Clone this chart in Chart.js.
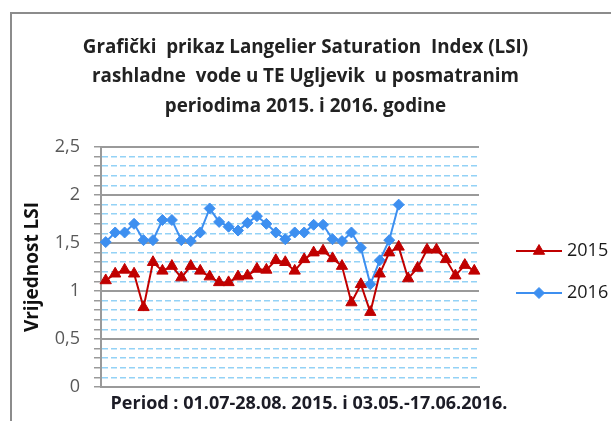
<!DOCTYPE html>
<html lang="bs">
<head>
<meta charset="UTF-8">
<title>LSI rashladne vode - TE Ugljevik</title>
<style>
    * { margin: 0; padding: 0; box-sizing: border-box; }
    html, body { width: 611px; height: 421px; overflow: hidden; background: #fff; }
    .frame { position: absolute; left: 10px; top: 12px; width: 700px; height: 500px; border: 2px solid #8c8c8c; }
    .wrap { position: absolute; left: 0; top: 0; width: 611px; height: 421px; }
</style>
</head>
<body>
<div class="frame"></div>
<div class="wrap"><canvas id="lsi" width="611" height="421"></canvas></div>

<script src="https://cdn.jsdelivr.net/npm/chart.js@4.4.1/dist/chart.umd.min.js"></script>
<script>
    // measurement days (categories, not shown on the axis)
    const days = ['1','2','3','4','5','6','7','8','9','10',
                  '11','12','13','14','15','16','17','18','19','20',
                  '21','22','23','24','25','26','27','28','29','30',
                  '31','32','33','34','35','36','37','38','39','40'];

    const lsi2015 = [1.11, 1.18, 1.22, 1.18, 0.83, 1.30, 1.21, 1.26, 1.14, 1.26,
                     1.21, 1.15, 1.09, 1.09, 1.15, 1.16, 1.23, 1.22, 1.32, 1.30,
                     1.21, 1.33, 1.40, 1.42, 1.34, 1.26, 0.88, 1.07, 0.78, 1.18,
                     1.40, 1.46, 1.13, 1.24, 1.43, 1.43, 1.33, 1.16, 1.27, 1.21];

    const lsi2016 = [1.51, 1.61, 1.61, 1.70, 1.53, 1.53, 1.74, 1.74, 1.53, 1.52,
                     1.61, 1.86, 1.72, 1.67, 1.63, 1.71, 1.78, 1.70, 1.61, 1.54,
                     1.61, 1.61, 1.69, 1.69, 1.54, 1.52, 1.61, 1.45, 1.07, 1.32,
                     1.53, 1.90];

    const seriesNames = ['2015', '2016'];

    const titleLines = ['Grafički  prikaz Langelier Saturation  Index (LSI)',
                        'rashladne  vode u TE Ugljevik  u posmatranim',
                        'periodima 2015. i 2016. godine'];
    const yTitle = 'Vrijednost LSI';
    const periodText = 'Period : 01.07-28.08. 2015. i 03.05.-17.06.2016.';

    const RED = '#c00000';
    const BLUE = '#3d8ff0';
    const GRID = '#9a9a9a';
    const FONT = "'Open Sans'";

    const isMajor = v => Math.abs(v * 2 - Math.round(v * 2)) < 1e-6;

    // "Period : ..." caption under the x axis
    const periodCaption = {
        id: 'periodCaption',
        afterDraw(chart) {
            const ctx = chart.ctx;
            ctx.save();
            ctx.font = 'bold 18px ' + FONT;
            ctx.fillStyle = '#1c1c26';
            ctx.textAlign = 'center';
            ctx.textBaseline = 'middle';
            ctx.fillText(periodText, 309, 404);
            ctx.restore();
        }
    };

    // legend on the right: short line with the marker in the middle, then the year
    const sideLegend = {
        id: 'sideLegend',
        afterDraw(chart) {
            const ctx = chart.ctx;
            const area = chart.chartArea;
            const mid = (area.top + area.bottom) / 2 + 5;
            chart.data.datasets.forEach((ds, i) => {
                const y = mid + (i - 0.5) * 42;
                const x0 = area.right + 37;
                ctx.save();
                ctx.strokeStyle = ds.borderColor;
                ctx.lineWidth = 2;
                ctx.beginPath();
                ctx.moveTo(x0, y);
                ctx.lineTo(x0 + 46, y);
                ctx.stroke();
                ctx.fillStyle = ds.pointBackgroundColor;
                ctx.strokeStyle = ds.pointBorderColor;
                ctx.lineWidth = 1;
                Chart.helpers.drawPoint(ctx, {
                    pointStyle: ds.pointStyle, radius: ds.pointRadius, rotation: 0, borderWidth: 1
                }, x0 + 23, y);
                ctx.font = '18px ' + FONT;
                ctx.fillStyle = '#1a1a1a';
                ctx.textAlign = 'left';
                ctx.textBaseline = 'middle';
                ctx.fillText(ds.label, x0 + 51, y);
                ctx.restore();
            });
        }
    };

    new Chart(document.getElementById('lsi'), {
        type: 'line',
        data: {
            labels: days,
            datasets: [{
                label: seriesNames[0],
                data: lsi2015,
                borderColor: RED,
                backgroundColor: RED,
                borderWidth: 2,
                pointStyle: 'triangle',
                pointRadius: 6.5,
                pointBackgroundColor: RED,
                pointBorderColor: RED,
                pointBorderWidth: 1,
                tension: 0
            }, {
                label: seriesNames[1],
                data: lsi2016,
                borderColor: BLUE,
                backgroundColor: BLUE,
                borderWidth: 2,
                pointStyle: 'rectRot',
                pointRadius: 5.5,
                pointBackgroundColor: BLUE,
                pointBorderColor: BLUE,
                pointBorderWidth: 1,
                tension: 0
            }]
        },
        options: {
            responsive: false,
            animation: false,
            events: [],
            layout: { padding: 0 },
            plugins: {
                tooltip: { enabled: false },
                legend: { display: false },
                title: {
                    display: true,
                    text: titleLines,
                    color: '#222',
                    font: { family: FONT, size: 18.8, weight: 'bold', lineHeight: 1.57 },
                    padding: { top: 32.5, bottom: 26 }
                }
            },
            scales: {
                x: {
                    type: 'category',
                    offset: true,
                    grid: { display: false },
                    ticks: { display: false },
                    border: { color: GRID, width: 2 },
                    afterFit(s) { s.height = 34; }
                },
                y: {
                    position: 'left',
                    weight: 1,
                    min: 0,
                    max: 2.5,
                    ticks: {
                        stepSize: 0.1,
                        autoSkip: false,
                        padding: 14,
                        color: '#595959',
                        font: { family: FONT, size: 18 },
                        callback: v => isMajor(v) ? String(Math.round(v * 10) / 10).replace('.', ',') : ''
                    },
                    grid: {
                        color: c => isMajor(c.tick.value) ? 'rgba(0,0,0,0)' : '#93d2f6',
                        lineWidth: 1.5,
                        tickLength: 7,
                        tickColor: GRID,
                        tickWidth: 1.5,
                        tickBorderDash: []
                    },
                    border: { color: GRID, width: 2, dash: [6, 3] },
                    title: {
                        display: true,
                        text: yTitle,
                        color: '#111',
                        font: { family: FONT, size: 19, weight: 'bold' },
                        padding: { top: 21.5, bottom: 0 }
                    },
                    afterFit(s) { s.width = 101; }
                },
                yMajor: {
                    position: 'left',
                    weight: 0,
                    min: 0,
                    max: 2.5,
                    ticks: { display: false, stepSize: 0.5 },
                    grid: { color: GRID, lineWidth: 2, drawTicks: false },
                    border: { display: false }
                },
                // empty strip on the right that holds the legend
                legendSpace: {
                    position: 'right',
                    ticks: { display: false },
                    grid: { display: false },
                    border: { display: false },
                    afterFit(s) { s.width = 132; }
                }
            }
        },
        plugins: [periodCaption, sideLegend]
    });
</script>
</body>
</html>
